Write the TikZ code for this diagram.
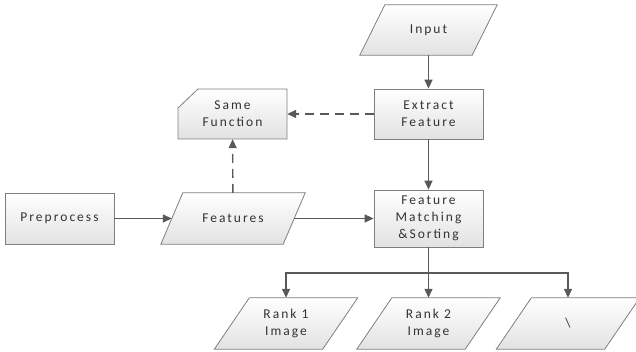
\documentclass[tikz,border=0pt]{standalone}
\usepackage{fontspec}
\setmainfont{Carlito}[LetterSpace=15]
\usetikzlibrary{arrows.meta,calc}
\definecolor{ln}{HTML}{595959}
\definecolor{bd}{HTML}{7F7F7F}
\definecolor{bt}{HTML}{E2E2E2}
\pgfdeclarelayer{bg}
\pgfsetlayers{bg,main}
\newcommand\parashape[2]{%
  \begin{pgfonlayer}{bg}
  \path[shp] ($(#1.south west)+(-#2/2,0)$) -- ($(#1.south east)+(-#2/2,0)$)
    -- ($(#1.north east)+(#2/2,0)$) -- ($(#1.north west)+(#2/2,0)$) -- cycle;
  \end{pgfonlayer}}
\begin{document}
\begin{tikzpicture}[x=1pt,y=-1pt,
  txt/.style={align=center, font=\fontsize{13.5}{17}\selectfont, text=black!80, inner sep=0pt, rectangle},
  shp/.style={draw=bd, line width=0.8pt, top color=white, bottom color=bt},
  rectbox/.style={txt, shp, minimum width=109pt, minimum height=50pt},
  parabox/.style={txt, minimum height=51pt},
  arr/.style={draw=ln, line width=1.4pt, -{Triangle[length=9pt,width=8pt]}},
  plain/.style={draw=ln, line width=1.4pt},
  dsh/.style={dash pattern=on 9pt off 6pt}]
\useasboundingbox (0,0) rectangle (636,352);

% Same Function (cut corner)
\path[shp] (178,108) -- (198,89) -- (287,89) -- (287,139) -- (178,139) -- cycle;
\node[txt, minimum width=109pt, minimum height=50pt] (sf) at (232.5,114) {Same\\Function};

\node[parabox, minimum width=112pt, minimum height=50pt] (in) at (428.5,30) {Input};
\parashape{in}{25}
\node[rectbox] (ex) at (428.5,114) {Extract\\Feature};
\node[rectbox, minimum height=51pt] (pre) at (59.5,218.5) {Preprocess};
\node[parabox, minimum width=122pt] (fe) at (233,218.5) {Features};
\parashape{fe}{22}
\node[rectbox, minimum height=57pt] (fm) at (428.5,218.5) {Feature\\Matching\\\&Sorting};
\node[parabox, minimum width=108pt] (r1) at (286,323.5) {Rank 1\\Image};
\parashape{r1}{35}
\node[parabox, minimum width=108pt] (r2) at (428.5,323.5) {Rank 2\\Image};
\parashape{r2}{35}
\node[parabox, minimum width=108pt] (r3) at (568,323.5) {\textbackslash};
\parashape{r3}{35}

\coordinate (br) at (428.5,273);

\draw[arr] (in) -- (ex);
\draw[arr, dsh] (ex) -- (sf);
\draw[arr, dsh] (fe) -- (sf);
\draw[arr] (pre) -- (fe);
\draw[arr] (fe) -- (fm);
\draw[arr] (ex) -- (fm);
\draw[plain] (fm.south) -- (br);
\draw[arr] (br) -| (r1.north);
\draw[arr] (br) -- (r2.north);
\draw[arr] (br) -| (r3.north);
\end{tikzpicture}
\end{document}
